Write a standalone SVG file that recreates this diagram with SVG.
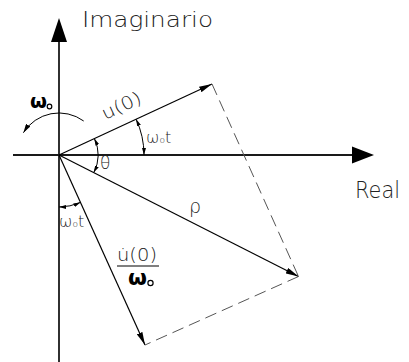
<svg xmlns="http://www.w3.org/2000/svg" width="409" height="362" viewBox="0 0 409 362">
<style>
  .axis{stroke:#1a1a1a;stroke-width:1.8;fill:none}
  .vec{stroke:#000;stroke-width:1.2;fill:none;marker-end:url(#vhead)}
  .dash{stroke:#555;stroke-width:1;fill:none;stroke-dasharray:12 6}
  .arc{stroke:#000;stroke-width:1;fill:none}
  .arc2{stroke:#000;stroke-width:1;fill:none;marker-start:url(#ahead);marker-end:url(#ahead)}
  .lbl{font-family:"DejaVu Sans","Liberation Sans",sans-serif;font-weight:200;fill:#222}
  .grk{font-family:"DejaVu Sans","Liberation Sans",sans-serif;font-weight:200;fill:#222}
  .big{font-family:"DejaVu Sans","Liberation Sans",sans-serif;font-weight:bold;fill:#000}
</style>
<defs>
  <marker id="vhead" viewBox="0 0 13 6" refX="13" refY="3" markerWidth="13" markerHeight="6" markerUnits="userSpaceOnUse" orient="auto">
    <path d="M0,0 L13,3 L0,6 Z" fill="#000"/>
  </marker>
  <marker id="ahead" viewBox="0 0 7 4" refX="7" refY="2" markerWidth="7" markerHeight="4" markerUnits="userSpaceOnUse" orient="auto-start-reverse">
    <path d="M0,0 L7,2 L0,4 Z" fill="#000"/>
  </marker>
  <marker id="rhead" viewBox="0 0 9 5" refX="9" refY="2.5" markerWidth="9" markerHeight="5" markerUnits="userSpaceOnUse" orient="auto">
    <path d="M0,0 L9,2.5 L0,5 Z" fill="#000"/>
  </marker>
</defs>

<g id="axes">
  <line class="axis" x1="59" y1="42" x2="59" y2="362"/>
  <polygon points="59,18 51,42 67,42" fill="#000"/>
  <line class="axis" x1="13" y1="155" x2="352" y2="155"/>
  <polygon points="374,155 352,146.5 352,163.5" fill="#000"/>
  <text class="lbl" x="82" y="27" font-size="21" textLength="131" lengthAdjust="spacingAndGlyphs">Imaginario</text>
  <text class="lbl" x="355" y="198" font-size="23" textLength="45" lengthAdjust="spacingAndGlyphs">Real</text>
</g>

<g id="connectors">
  <line class="vec" x1="59" y1="155" x2="212" y2="84"/>
  <line class="vec" x1="59" y1="155" x2="298.5" y2="276.5"/>
  <line class="vec" x1="59" y1="155" x2="145" y2="345"/>
  <line class="dash" x1="212" y1="84" x2="298.5" y2="276.5"/>
  <line class="dash" x1="298.5" y1="276.5" x2="145" y2="345"/>
</g>

<g id="rotation">
  <path class="arc" d="M83.7,121 A42,42 0 0 0 23.4,132.7" marker-end="url(#rhead)"/>
  <text class="big" x="30" y="108" font-size="20" textLength="17" lengthAdjust="spacingAndGlyphs">ω</text>
  <circle cx="49.5" cy="106.5" r="2.3" fill="none" stroke="#000" stroke-width="1.2"/>
</g>

<g id="angle-theta">
  <path class="arc2" d="M94.4,138.6 A39,39 0 0 1 93.8,172.6"/>
  <text class="grk" x="100" y="169" font-size="17">θ</text>
</g>

<g id="angle-w0t-upper">
  <path class="arc2" d="M136.1,119.2 A85,85 0 0 1 144,155"/>
  <text class="grk" x="146" y="143" font-size="16">ω<tspan font-size="9" dy="-0.5">o</tspan><tspan dy="0.5">t</tspan></text>
</g>

<g id="angle-w0t-lower">
  <path class="arc2" d="M59,207 A52,52 0 0 0 80.4,202.4"/>
  <text class="grk" x="59" y="227" font-size="16">ω<tspan font-size="9" dy="-0.5">o</tspan><tspan dy="0.5">t</tspan></text>
</g>

<g id="label-u0">
  <text class="lbl" transform="translate(105,120) rotate(-24.9)" x="0" y="0" font-size="18" textLength="42" lengthAdjust="spacingAndGlyphs">u(0)</text>
</g>

<g id="label-rho">
  <text class="grk" x="189" y="213" font-size="19">ρ</text>
</g>

<g id="label-udot">
  <text class="lbl" x="117" y="261" font-size="17" textLength="40" lengthAdjust="spacingAndGlyphs">u̇(0)</text>
  <line x1="117" y1="266" x2="159" y2="266" stroke="#000" stroke-width="1.2"/>
  <text class="big" x="128" y="285" font-size="22" textLength="19" lengthAdjust="spacingAndGlyphs">ω</text>
  <circle cx="150.5" cy="283" r="2.6" fill="none" stroke="#000" stroke-width="1.2"/>
</g>
</svg>
